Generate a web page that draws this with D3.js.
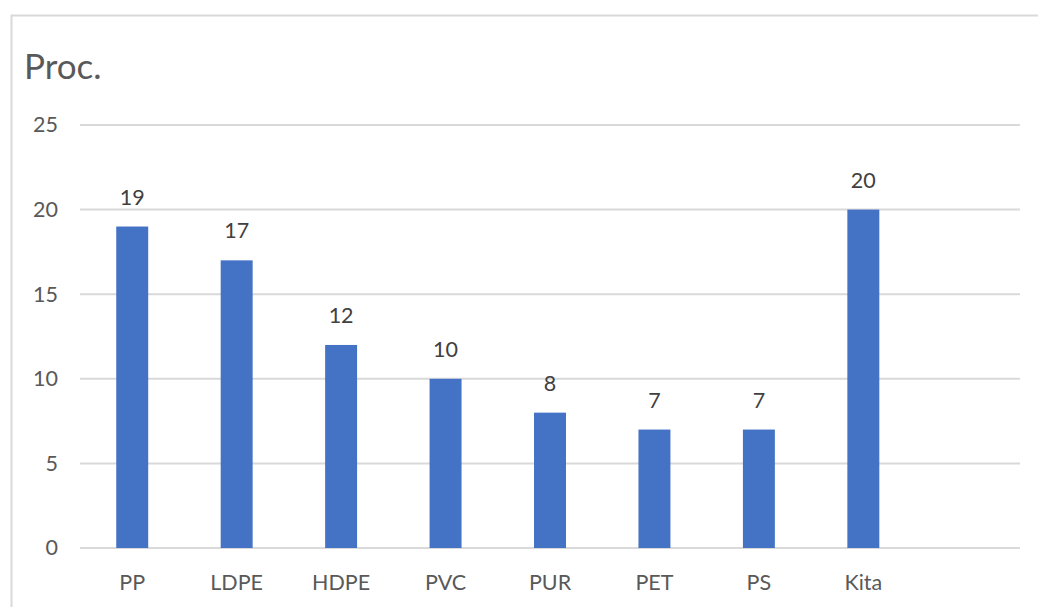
<!DOCTYPE html>
<html>
<head>
<meta charset="utf-8">
<script src="https://cdn.jsdelivr.net/npm/d3@7/dist/d3.min.js"></script>
<style>
  html, body { margin: 0; padding: 0; background: #fff; }
  svg { display: block; font-family: Lato, "Open Sans", "Liberation Sans", sans-serif; }
</style>
</head>
<body>
<svg id="chart" width="1038" height="607"></svg>
<script>
// Plastic types and their share (percent)
const categories = ["PP", "LDPE", "HDPE", "PVC", "PUR", "PET", "PS", "Kita"];
const values = [19, 17, 12, 10, 8, 7, 7, 20];
const yTicks = [0, 5, 10, 15, 20, 25];
const title = "Proc.";

const svg = d3.select("#chart");
const W = 1038, H = 607;
const FONT = 21.5;

// outer frame of the chart
svg.append("rect")
  .attr("x", 11.5).attr("y", 15.5)
  .attr("width", W).attr("height", H)
  .attr("fill", "#fff")
  .attr("stroke", "#d9d9d9").attr("stroke-width", 2);

const plot = { left: 80, right: 1020, top: 125, bottom: 548 };

// category axis keeps one trailing empty slot
const slots = categories.concat([" "]);
const x = d3.scaleBand()
  .domain(slots)
  .range([plot.left, plot.right])
  .paddingInner(0.694)
  .paddingOuter(0.347);

const y = d3.scaleLinear()
  .domain([0, 25])
  .range([plot.bottom, plot.top]);

// horizontal gridlines
svg.append("g")
  .selectAll("line")
  .data(yTicks)
  .join("line")
  .attr("x1", plot.left).attr("x2", plot.right)
  .attr("y1", d => y(d)).attr("y2", d => y(d))
  .attr("stroke", "#d9d9d9").attr("stroke-width", 2);

// y axis tick labels
const yAxis = svg.append("g")
  .attr("transform", `translate(${plot.left - 22},0)`)
  .call(d3.axisLeft(y).tickValues(yTicks).tickSize(0).tickPadding(0));
yAxis.select(".domain").remove();
yAxis.selectAll("text")
  .attr("fill", "#595959")
  .style("font-size", FONT + "px")
  .style("font-family", "Lato, 'Open Sans', sans-serif");

// bars
svg.append("g")
  .selectAll("rect")
  .data(categories)
  .join("rect")
  .attr("x", d => x(d))
  .attr("width", x.bandwidth())
  .attr("y", (d, i) => y(values[i]))
  .attr("height", (d, i) => y(0) - y(values[i]))
  .attr("fill", "#4472c4");

// value labels
svg.append("g")
  .selectAll("text")
  .data(categories)
  .join("text")
  .attr("x", d => x(d) + x.bandwidth() / 2)
  .attr("y", (d, i) => y(values[i]) - 22)
  .attr("text-anchor", "middle")
  .attr("fill", "#404040")
  .style("font-size", FONT + "px")
  .text((d, i) => values[i]);

// category axis labels
const xAxis = svg.append("g")
  .attr("transform", `translate(0,${plot.bottom + 42})`)
  .call(d3.axisBottom(x).tickSize(0).tickPadding(0));
xAxis.select(".domain").remove();
xAxis.selectAll("text")
  .attr("fill", "#595959")
  .attr("dy", "0")
  .style("font-size", FONT + "px")
  .style("font-family", "Lato, 'Open Sans', sans-serif");

// chart title
svg.append("text")
  .attr("x", 24).attr("y", 79)
  .attr("fill", "#595959")
  .style("font-size", "35px")
  .text(title);
</script>
</body>
</html>
